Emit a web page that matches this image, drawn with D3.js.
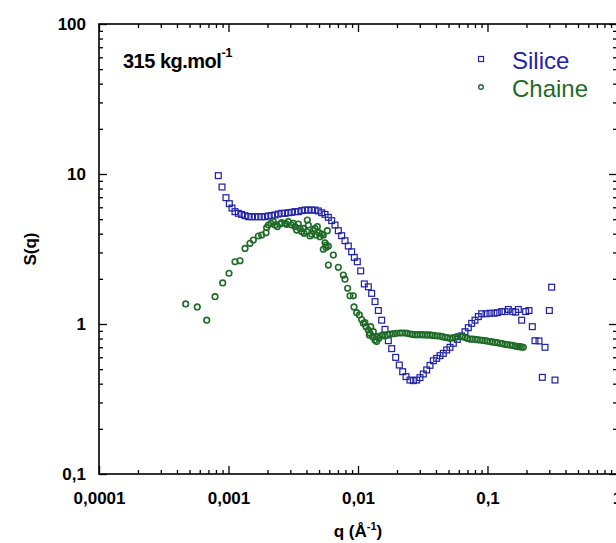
<!DOCTYPE html>
<html>
<head>
<meta charset="utf-8">
<script src="https://cdn.jsdelivr.net/npm/d3@7"></script>
<style>
  html, body { margin: 0; padding: 0; background: #fff; }
  svg { display: block; }
  text { font-family: "Liberation Sans", Arial, Helvetica, sans-serif; }
</style>
</head>
<body>
<svg id="chart" width="616" height="543"></svg>
<script>
// ---------------- data ----------------
const seriesNames = ["Silice", "Chaine"];
const seriesColors = ["#2424a8", "#1f6b28"];

const siliceQ = [0.000834, 0.000891, 0.000956, 0.001015, 0.001064, 0.001122, 0.001191, 0.001264, 0.001341, 0.001423,
  0.001510, 0.001602, 0.001700, 0.001804, 0.001914, 0.002031, 0.002154, 0.002286, 0.002426, 0.002574,
  0.002731, 0.002897, 0.003074, 0.003262, 0.003461, 0.003673, 0.003896, 0.004135, 0.004387, 0.004656,
  0.004939, 0.005241, 0.005564, 0.005903, 0.006263, 0.006644, 0.007049, 0.00748, 0.007936, 0.00842,
  0.008935, 0.00937, 0.00988, 0.01049, 0.01119, 0.01202, 0.01275, 0.01353, 0.01436, 0.01523,
  0.01616, 0.01715, 0.0182, 0.01954, 0.02085, 0.02213, 0.02348, 0.02521, 0.02675, 0.02838,
  0.03011, 0.03195, 0.03391, 0.03597, 0.03817, 0.0405, 0.04297, 0.0456, 0.04838, 0.05133,
  0.05447, 0.05848, 0.06318, 0.06704, 0.07112, 0.07546, 0.08008, 0.08497, 0.09016, 0.09736,
  0.1045, 0.1122, 0.1191, 0.1287, 0.1365, 0.1449, 0.1564, 0.165, 0.173, 0.1836,
  0.197, 0.2092, 0.2219, 0.2327, 0.2498, 0.2651, 0.278, 0.3003, 0.313, 0.332];
const siliceS = [9.75, 8.19, 6.95, 6.34, 5.93, 5.61, 5.47, 5.38, 5.28, 5.19,
  5.19, 5.19, 5.19, 5.19, 5.19, 5.25, 5.28, 5.33, 5.41, 5.47,
  5.47, 5.52, 5.55, 5.61, 5.61, 5.70, 5.75, 5.75, 5.75, 5.75,
  5.67, 5.52, 5.38, 5.14, 4.89, 4.57, 4.19, 3.88, 3.59, 3.31,
  3.03, 2.78, 2.60, 2.26, 1.85, 1.77, 1.60, 1.41, 1.23, 1.06,
  0.921, 0.774, 0.685, 0.599, 0.533, 0.481, 0.446, 0.423, 0.419, 0.423,
  0.439, 0.464, 0.494, 0.530, 0.569, 0.590, 0.615, 0.637, 0.671, 0.699,
  0.743, 0.790, 0.832, 0.889, 0.945, 1.01, 1.06, 1.12, 1.17, 1.17,
  1.18, 1.18, 1.19, 1.21, 1.21, 1.25, 1.21, 1.20, 1.25, 1.06,
  1.21, 1.23, 0.960, 0.774, 0.771, 0.441, 0.699, 1.23, 1.76, 0.423];

const chaineQ = [0.000467, 0.000574, 0.000679, 0.000787, 0.000902, 0.001009, 0.001122, 0.001227, 0.001341, 0.001466,
  0.001555, 0.0017, 0.001804, 0.001949, 0.00197, 0.002031, 0.002129, 0.002219, 0.002286, 0.002383,
  0.002499, 0.002574, 0.002731, 0.002813, 0.002897, 0.003074, 0.003167, 0.003262, 0.00336, 0.003461,
  0.003565, 0.003673, 0.003783, 0.003828, 0.004014, 0.004062, 0.004135, 0.004259, 0.004387, 0.004519,
  0.004656, 0.004739, 0.004853, 0.004999, 0.005088, 0.005241, 0.005398, 0.005398, 0.005564, 0.005663,
  0.005663, 0.005797, 0.005903, 0.005903, 0.00645, 0.007049, 0.007703, 0.007936, 0.008318, 0.008674,
  0.009204, 0.009314, 0.009766, 0.01024, 0.01067, 0.01099, 0.01132, 0.01153, 0.01202, 0.01223,
  0.01238, 0.01253, 0.01298, 0.01313, 0.01353, 0.01393, 0.01393, 0.01452, 0.01479, 0.0155,
  0.01616, 0.01685, 0.01766, 0.01874, 0.01989, 0.0211, 0.02199, 0.02307, 0.02404, 0.02521,
  0.02628, 0.02755, 0.02872, 0.03011, 0.0314, 0.03291, 0.03431, 0.03597, 0.0375, 0.03932,
  0.04099, 0.04297, 0.0448, 0.04697, 0.04896, 0.05133, 0.05351, 0.0561, 0.05848, 0.06132,
  0.06392, 0.06704, 0.06986, 0.07327, 0.07636, 0.08008, 0.08345, 0.08753, 0.09122, 0.09566,
  0.0997, 0.1045, 0.109, 0.1143, 0.1191, 0.1249, 0.1302, 0.1365, 0.1423, 0.1492,
  0.1555, 0.1631, 0.169, 0.1762, 0.1825, 0.1891];
const chaineS = [1.36, 1.30, 1.06, 1.52, 1.88, 2.18, 2.60, 2.64, 3.19, 3.45,
  3.63, 3.86, 3.92, 4.06, 4.39, 4.57, 4.69, 4.81, 4.57, 4.46,
  4.64, 4.74, 4.69, 4.62, 4.81, 4.57, 4.69, 4.46, 4.23, 4.64,
  4.34, 4.13, 4.34, 4.02, 4.13, 4.93, 4.57, 3.86, 3.98, 4.19,
  4.34, 3.92, 4.46, 4.06, 3.82, 3.98, 3.92, 3.15, 3.48, 3.24,
  3.36, 4.19, 2.47, 3.31, 2.88, 2.39, 2.12, 1.99, 1.73, 1.54,
  1.54, 1.30, 1.19, 1.15, 1.07, 1.01, 1.02, 0.960, 0.912, 0.845,
  0.866, 0.960, 0.823, 0.889, 0.782, 0.823, 0.763, 0.802, 0.832, 0.845,
  0.832, 0.849, 0.858, 0.862, 0.866, 0.871, 0.871, 0.871, 0.867, 0.858,
  0.853, 0.849, 0.849, 0.849, 0.849, 0.845, 0.845, 0.845, 0.840, 0.836,
  0.832, 0.832, 0.823, 0.815, 0.811, 0.803, 0.807, 0.815, 0.823, 0.832,
  0.823, 0.815, 0.803, 0.794, 0.794, 0.790, 0.786, 0.782, 0.778, 0.774,
  0.770, 0.763, 0.759, 0.755, 0.751, 0.743, 0.740, 0.732, 0.728, 0.724,
  0.721, 0.713, 0.710, 0.706, 0.703, 0.699];

const xMajorTicks = [0.0001, 0.001, 0.01, 0.1, 1];
const xTickLabels = ["0,0001", "0,001", "0,01", "0,1", "1"];
const yMajorTicks = [0.1, 1, 10, 100];
const yTickLabels = ["0,1", "1", "10", "100"];
const minorMultipliers = [2, 3, 4, 5, 6, 7, 8, 9];

const xTitle = "q (Å";
const xTitleSup = "-1";
const yTitle = "S(q)";
const annotation = "315 kg.mol";
const annotationSup = "-1";

// ---------------- layout ----------------
const W = 616, H = 543;
const L = 99, R = 617, T = 24, B = 474;

const svg = d3.select("#chart");
svg.append("rect").attr("width", W).attr("height", H).attr("fill", "#fff");

const x = d3.scaleLog().domain([1e-4, 1]).range([L, R]);
const y = d3.scaleLog().domain([0.1, 100]).range([B, T]);

const xMinor = [];
xMajorTicks.slice(0, -1).forEach(d => minorMultipliers.forEach(m => xMinor.push(d * m)));
const yMinor = [];
yMajorTicks.slice(0, -1).forEach(d => minorMultipliers.forEach(m => yMinor.push(d * m)));

const fmtX = d => xTickLabels[xMajorTicks.findIndex(v => Math.abs(v - d) / v < 1e-6)];
const fmtY = d => yTickLabels[yMajorTicks.findIndex(v => Math.abs(v - d) / v < 1e-6)];

function styleAxis(g) {
  g.select(".domain").remove();
  g.selectAll("line").attr("stroke", "#000").attr("stroke-width", 1.3);
  g.selectAll("text").attr("font-size", 17).attr("font-weight", "bold")
    .attr("fill", "#000").attr("font-family", "'Liberation Sans', Arial, sans-serif");
}

// bottom
svg.append("g").attr("transform", `translate(0,${B})`)
  .call(d3.axisBottom(x).tickValues(xMajorTicks).tickFormat(fmtX).tickSizeInner(-8).tickSizeOuter(0).tickPadding(18))
  .call(styleAxis);
svg.append("g").attr("transform", `translate(0,${B})`)
  .call(d3.axisBottom(x).tickValues(xMinor).tickFormat("").tickSizeInner(-4).tickSizeOuter(0))
  .call(styleAxis);
// top
svg.append("g").attr("transform", `translate(0,${T})`)
  .call(d3.axisTop(x).tickValues(xMajorTicks).tickFormat("").tickSizeInner(-8).tickSizeOuter(0))
  .call(styleAxis);
svg.append("g").attr("transform", `translate(0,${T})`)
  .call(d3.axisTop(x).tickValues(xMinor).tickFormat("").tickSizeInner(-4).tickSizeOuter(0))
  .call(styleAxis);
// left
svg.append("g").attr("transform", `translate(${L},0)`)
  .call(d3.axisLeft(y).tickValues(yMajorTicks).tickFormat(fmtY).tickSizeInner(-8).tickSizeOuter(0).tickPadding(13))
  .call(styleAxis);
svg.append("g").attr("transform", `translate(${L},0)`)
  .call(d3.axisLeft(y).tickValues(yMinor).tickFormat("").tickSizeInner(-4).tickSizeOuter(0))
  .call(styleAxis);
// right
svg.append("g").attr("transform", `translate(${R},0)`)
  .call(d3.axisRight(y).tickValues(yMajorTicks).tickFormat("").tickSizeInner(-8).tickSizeOuter(0))
  .call(styleAxis);
svg.append("g").attr("transform", `translate(${R},0)`)
  .call(d3.axisRight(y).tickValues(yMinor).tickFormat("").tickSizeInner(-4).tickSizeOuter(0))
  .call(styleAxis);

// frame
svg.append("rect").attr("x", L).attr("y", T).attr("width", R - L).attr("height", B - T)
  .attr("fill", "none").attr("stroke", "#000").attr("stroke-width", 1.6);

// ---------------- marks ----------------
const silice = siliceQ.map((q, i) => ({ q, s: siliceS[i] }));
const chaine = chaineQ.map((q, i) => ({ q, s: chaineS[i] }));

const sq = 5.8;
svg.append("g").selectAll("rect").data(silice).join("rect")
  .attr("x", d => x(d.q) - sq / 2).attr("y", d => y(d.s) - sq / 2)
  .attr("width", sq).attr("height", sq)
  .attr("fill", "none").attr("stroke", seriesColors[0]).attr("stroke-width", 1.25);

svg.append("g").selectAll("circle").data(chaine).join("circle")
  .attr("cx", d => x(d.q)).attr("cy", d => y(d.s)).attr("r", 2.8)
  .attr("fill", "none").attr("stroke", seriesColors[1]).attr("stroke-width", 1.6);

// ---------------- legend ----------------
const legendY = [59, 87];
svg.append("rect").attr("x", 481 - 2.5).attr("y", legendY[0] - 2.5).attr("width", 5).attr("height", 5)
  .attr("fill", "none").attr("stroke", seriesColors[0]).attr("stroke-width", 1.2);
svg.append("circle").attr("cx", 481).attr("cy", legendY[1]).attr("r", 2.3)
  .attr("fill", "none").attr("stroke", seriesColors[1]).attr("stroke-width", 1.4);
seriesNames.forEach((n, i) => {
  svg.append("text").attr("x", 512).attr("y", legendY[i] + 9.5)
    .attr("font-size", 24).attr("fill", seriesColors[i]).text(n);
});

// ---------------- titles ----------------
const xt = svg.append("text").attr("x", (L + R) / 2).attr("y", 537)
  .attr("text-anchor", "middle").attr("font-size", 17).attr("font-weight", "bold");
xt.append("tspan").text(xTitle);
xt.append("tspan").attr("dy", -7).attr("font-size", 11).text(xTitleSup);
xt.append("tspan").attr("dy", 7).text(")");

svg.append("text").attr("transform", `translate(36,${(T + B) / 2}) rotate(-90)`)
  .attr("text-anchor", "middle").attr("font-size", 17).attr("font-weight", "bold").text(yTitle);

const an = svg.append("text").attr("x", 123).attr("y", 68)
  .attr("font-size", 20).attr("font-weight", "bold").attr("letter-spacing", -0.5);
an.append("tspan").text(annotation);
an.append("tspan").attr("dy", -11).attr("dx", 0).attr("font-size", 13).text(annotationSup);
</script>
</body>
</html>
